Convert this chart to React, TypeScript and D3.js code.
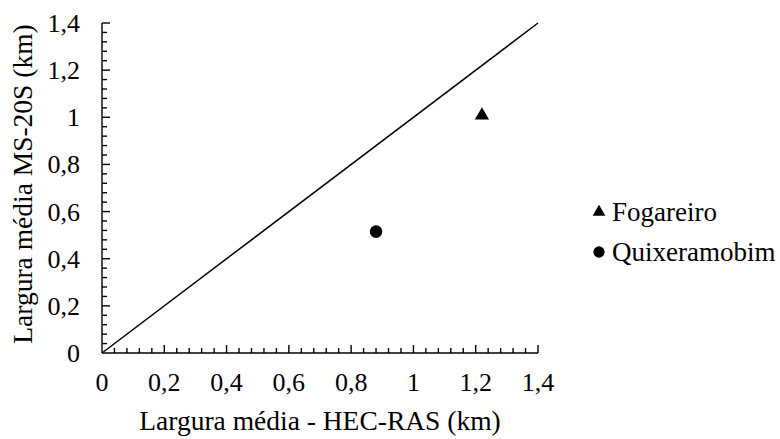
import { useEffect, useRef } from 'react';
import * as d3 from 'd3';

// pontos observados (largura média, km)
const stations = ['Fogareiro', 'Quixeramobim'];
const hecRas = [1.22, 0.88];
const ms20s = [1.008, 0.515];
const symbols = [d3.symbolTriangle, d3.symbolCircle];

const majorTicks = [0, 0.2, 0.4, 0.6, 0.8, 1, 1.2, 1.4];
const tickLabels = ['0', '0,2', '0,4', '0,6', '0,8', '1', '1,2', '1,4'];
const identityLine = [0, 1.4];

export default function App() {
  const svgRef = useRef<SVGSVGElement>(null);

  useEffect(() => {
    document.body.style.margin = '0';
    const svg = d3.select(svgRef.current);
    svg.selectAll('*').remove();

    const W = 780, H = 439;
    const m = { left: 102, right: 538, top: 23, bottom: 353 };

    svg.attr('width', W).attr('height', H)
      .style('font-family', "'Liberation Serif', 'Times New Roman', serif");

    const x = d3.scaleLinear().domain([0, 1.4]).range([m.left, m.right]);
    const y = d3.scaleLinear().domain([0, 1.4]).range([m.bottom, m.top]);

    // ticks menores a cada 0,04
    const minor = d3.range(0, 1.4001, 0.04).filter(v => Math.abs(v / 0.2 - Math.round(v / 0.2)) > 1e-6);

    const g = svg.append('g').attr('stroke', '#000').attr('stroke-width', 1.4);

    // ── eixo x ──────────────────────────────────────────
    g.append('line').attr('x1', x(0)).attr('x2', x(1.4)).attr('y1', y(0)).attr('y2', y(0));
    g.append('g').selectAll('line').data(majorTicks.slice(1)).join('line')
      .attr('x1', d => x(d)).attr('x2', d => x(d)).attr('y1', y(0)).attr('y2', y(0) - 8);
    g.append('g').selectAll('line').data(minor).join('line')
      .attr('x1', d => x(d)).attr('x2', d => x(d)).attr('y1', y(0)).attr('y2', y(0) - 5);

    // ── eixo y ──────────────────────────────────────────
    g.append('line').attr('x1', x(0)).attr('x2', x(0)).attr('y1', y(0)).attr('y2', y(1.4));
    g.append('g').selectAll('line').data(majorTicks.slice(1)).join('line')
      .attr('x1', x(0)).attr('x2', x(0) + 8).attr('y1', d => y(d)).attr('y2', d => y(d));
    g.append('g').selectAll('line').data(minor).join('line')
      .attr('x1', x(0)).attr('x2', x(0) + 5).attr('y1', d => y(d)).attr('y2', d => y(d));

    // ── linha 1:1 ───────────────────────────────────────
    svg.append('path')
      .attr('d', d3.line<number>().x(d => x(d)).y(d => y(d))(identityLine))
      .attr('fill', 'none').attr('stroke', '#000').attr('stroke-width', 1.5);

    // ── pontos ──────────────────────────────────────────
    stations.forEach((_, i) => {
      svg.append('path')
        .attr('d', d3.symbol(symbols[i], i === 0 ? 88 : 125)())
        .attr('transform', `translate(${x(hecRas[i])},${y(ms20s[i])})`)
        .attr('fill', '#000');
    });

    // ── rótulos dos eixos ───────────────────────────────
    svg.append('g').selectAll('text').data(majorTicks).join('text')
      .attr('x', d => x(d)).attr('y', 391)
      .attr('text-anchor', 'middle')
      .attr('font-size', 26)
      .text((_, i) => tickLabels[i]);

    svg.append('g').selectAll('text').data(majorTicks).join('text')
      .attr('x', 80).attr('y', d => y(d) + 9)
      .attr('text-anchor', 'end')
      .attr('font-size', 26)
      .text((_, i) => tickLabels[i]);

    svg.append('text')
      .attr('x', (m.left + m.right) / 2).attr('y', 430)
      .attr('text-anchor', 'middle')
      .attr('font-size', 27.5)
      .text('Largura média - HEC-RAS (km)');

    svg.append('text')
      .attr('transform', `translate(32,${184}) rotate(-90)`)
      .attr('text-anchor', 'middle')
      .attr('font-size', 27.5)
      .text('Largura média MS-20S (km)');

    // ── legenda ─────────────────────────────────────────
    const leg = svg.append('g');
    stations.forEach((name, i) => {
      const cy = 212 + i * 40;
      leg.append('path')
        .attr('d', d3.symbol(symbols[i], i === 0 ? 70 : 100)())
        .attr('transform', `translate(599,${cy})`)
        .attr('fill', '#000');
      leg.append('text')
        .attr('x', 612).attr('y', cy + 9)
        .attr('font-size', 27)
        .text(name);
    });
  }, []);

  return <svg ref={svgRef} style={{ display: 'block' }} />;
}
